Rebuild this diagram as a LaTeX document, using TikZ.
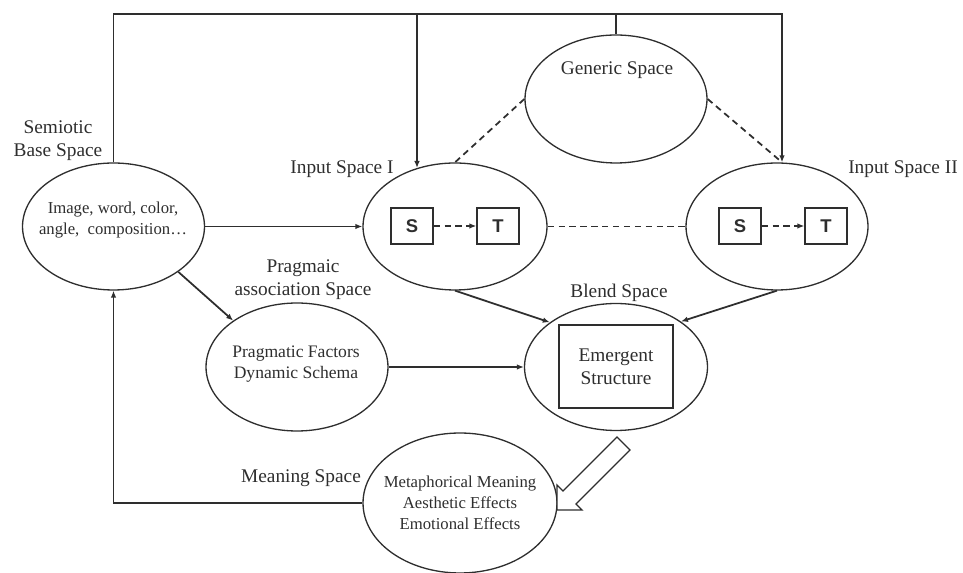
\documentclass[tikz,border=0pt]{standalone}
\usepackage{fontspec}
\setmainfont{Liberation Serif}
\setsansfont{Liberation Sans}
\usetikzlibrary{arrows.meta,shapes.geometric}
\definecolor{ink}{HTML}{2E2E2E}
\tikzset{
  spaceellipse/.style={draw=ink, line width=0.75pt, ellipse, inner sep=0pt},
  spacelabel/.style={text=ink, font=\fontsize{11}{13}\selectfont, align=center, inner sep=0pt},
  spacetext/.style={text=ink, font=\fontsize{9.5}{12}\selectfont, align=center, inner sep=0pt},
  stbox/.style={draw=ink, line width=0.75pt, minimum width=0.84cm, minimum height=0.72cm,
    inner sep=0pt, text=ink, font=\sffamily\bfseries\fontsize{10.5}{12}\selectfont},
  link/.style={draw=ink, line width=1pt},
  tip/.style={-{Latex[length=4pt,width=3.2pt]}},
  dashlink/.style={link, dash pattern=on 3.6pt off 2.6pt},
}
\begin{document}
\begin{tikzpicture}[x=0.02cm, y=-0.02cm]
  \useasboundingbox (0,0) rectangle (963,573);
  % spaces
  \node[spaceellipse, minimum width=3.64cm, minimum height=2.54cm] (sem) at (113.5,226.5) {};
  \node[spaceellipse, minimum width=3.64cm, minimum height=2.56cm] (gen) at (616,99) {};
  \node[spaceellipse, minimum width=3.68cm, minimum height=2.54cm] (in1) at (455,226.5) {};
  \node[spaceellipse, minimum width=3.64cm, minimum height=2.54cm] (in2) at (777,226.5) {};
  \node[spaceellipse, minimum width=3.64cm, minimum height=2.56cm] (prag) at (297,367) {};
  \node[spaceellipse, minimum width=3.66cm, minimum height=2.54cm] (blend) at (616,367) {};
  \node[spaceellipse, minimum width=3.88cm, minimum height=2.80cm] (mean) at (460,503) {};

  % contents
  \node[spacetext] (semtext) at (113,220) {Image, word, color,\\angle,\ \ composition\dots};
  \node[spacelabel] (gentext) at (617,70) {Generic Space};
  \node[spacetext, font=\fontsize{10}{12.3}\selectfont] (pragtext) at (296,364) {Pragmatic Factors\\Dynamic Schema};
  \node[spacetext] (meantext) at (460,503) {Metaphorical Meaning\\Aesthetic Effects\\Emotional Effects};
  \node[draw=ink, line width=0.9pt, minimum width=2.28cm, minimum height=1.66cm, inner sep=0pt,
    text=ink, align=center, font=\fontsize{11}{13}\selectfont] (emerg) at (616,366.5) {Emergent\\Structure};
  \node[stbox] (s1) at (412,226) {S};
  \node[stbox] (t1) at (498,226) {T};
  \node[stbox] (s2) at (740,226) {S};
  \node[stbox] (t2) at (826,226) {T};

  % labels
  \node[spacelabel] (semlab) at (58,141) {Semiotic\\Base Space};
  \node[spacelabel] (in1lab) at (342,169) {Input Space I};
  \node[spacelabel] (in2lab) at (903,169) {Input Space II};
  \node[spacelabel] (praglab) at (303,280) {Pragmaic\\association Space};
  \node[spacelabel] (blendlab) at (619,293) {Blend Space};
  \node[spacelabel] (meanlab) at (301,478) {Meaning Space};

  % top frame
  \coordinate (topR) at (782,14);
  \coordinate (brA) at (417,14);
  \draw[link, tip] (sem.north) |- (topR) -- (topR |- in2.north);
  \draw[link, tip] (brA) -- (brA |- in1.123);
  \draw[link] (gen.north |- topR) -- (gen.north);
  \draw[dashlink] (gen.west) -- (in1.north);
  \draw[dashlink] (gen.east) -- (topR |- in2.north);

  % connectors
  \draw[link, tip] (sem.east) -- (in1.west);
  \draw[dashlink, tip] (s1) -- (t1);
  \draw[dashlink, tip] (s2) -- (t2);
  \draw[dashlink] (in1.east) -- (in2.west);
  \draw[link, tip] (sem.-35) -- (prag.144);
  \draw[link, tip] (prag.east) -- (blend.west);
  \draw[link, tip] (in1.south) -- (blend.146);
  \draw[link, tip] (in2.south) -- (blend.35);
  \draw[link, tip] (mean.west) -| (sem.south);

  % hollow arrow
  \draw[ink, line width=0.75pt, fill=white] (557,510) -- (582,510) -- (576,504) -- (630,450)
    -- (617,437) -- (563,491) -- (557,485) -- cycle;
\end{tikzpicture}
\end{document}
